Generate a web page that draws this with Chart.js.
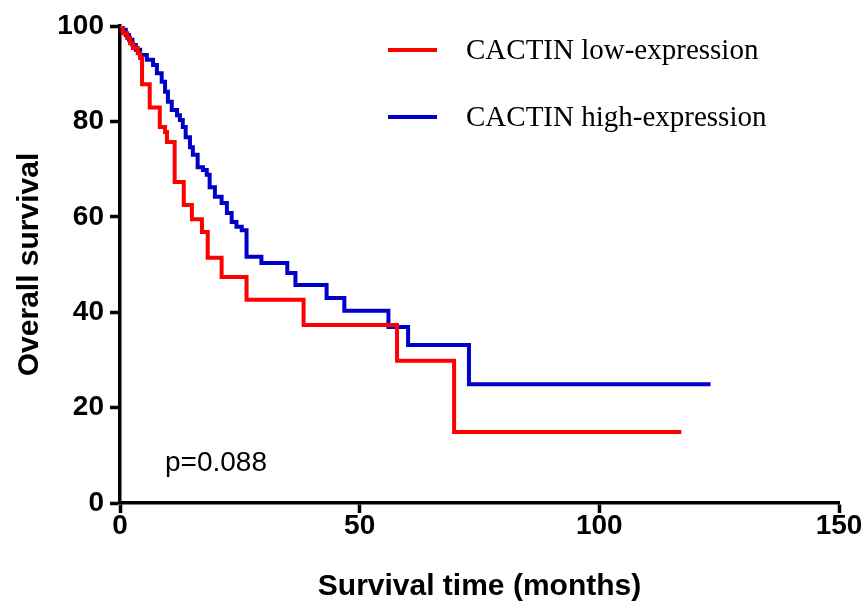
<!DOCTYPE html>
<html>
<head>
<meta charset="utf-8">
<script src="https://cdn.jsdelivr.net/npm/chart.js@4"></script>
<style>
  html, body { margin: 0; padding: 0; background: #fff; }
  #wrap { width: 862px; height: 607px; }
</style>
</head>
<body>
<div id="wrap"><canvas id="kmChart" width="862" height="607"></canvas></div>
<script>
// Kaplan-Meier steps (months, % surviving)
const lowTime = [0, 0.6, 1.5, 2.1, 2.7, 3.7, 4.2, 4.6, 6.2, 8.3, 9.4, 9.8, 11.4, 13.3, 15.0, 17.1, 18.3, 21.2, 26.4, 38.3, 57.8, 69.7, 117.1];
const lowSurv = [100, 98.5, 97.5, 96.4, 95.4, 94.3, 93.3, 87.8, 82.9, 78.8, 77.8, 75.7, 67.3, 62.5, 59.5, 56.8, 51.4, 47.4, 42.6, 37.3, 29.8, 14.9, 14.9];

const highTime = [0, 0.5, 1.2, 1.9, 2.6, 3.3, 4.2, 5.6, 6.9, 7.7, 8.7, 9.4, 10.0, 10.8, 11.9, 12.5, 13.1, 13.7, 14.6, 15.2, 16.2, 17.3, 18.1, 18.7, 19.8, 21.2, 22.3, 23.3, 24.3, 25.4, 26.4, 29.5, 34.9, 36.6, 43.1, 46.8, 56.0, 60.1, 72.8, 123.2];
const highSurv = [100, 99.2, 98.1, 97.1, 96.0, 95.0, 93.9, 92.9, 91.8, 90.1, 88.3, 86.2, 84.1, 82.4, 81.3, 80.3, 78.8, 76.7, 74.6, 73.0, 70.4, 69.8, 68.8, 66.2, 64.2, 62.9, 60.8, 58.9, 57.9, 57.2, 51.6, 50.3, 48.2, 45.7, 43.0, 40.3, 36.9, 33.1, 24.9, 24.9];

const seriesLabels = ['CACTIN low-expression', 'CACTIN high-expression'];
const xTicks = [0, 50, 100, 150];
const yTicks = [0, 20, 40, 60, 80, 100];
const pText = 'p=0.088';

function toPoints(xs, ys) {
    return xs.map((x, i) => ({ x: x, y: ys[i] }));
}

// legend drawn by hand to get the line-sample + serif text look
const legendPlugin = {
    id: 'kmLegend',
    afterDraw(chart) {
        const ctx = chart.ctx;
        ctx.save();
        const rows = [50, 117];
        chart.data.datasets.forEach((ds, i) => {
            ctx.strokeStyle = ds.borderColor;
            ctx.lineWidth = 4;
            ctx.beginPath();
            ctx.moveTo(388, rows[i]);
            ctx.lineTo(437, rows[i]);
            ctx.stroke();
            ctx.fillStyle = '#000';
            ctx.font = '29px "Liberation Serif", "Times New Roman", serif';
            ctx.textAlign = 'left';
            ctx.textBaseline = 'middle';
            ctx.fillText(ds.label, 466, rows[i] + 1);
        });
        // p value
        ctx.font = '28px "Liberation Sans", Arial, sans-serif';
        ctx.textBaseline = 'middle';
        ctx.fillText(pText, 165, 463);
        ctx.restore();
    }
};

const axisCommon = {
    type: 'linear',
    grid: {
        display: true,
        drawOnChartArea: false,
        drawTicks: true,
        tickLength: 10,
        tickWidth: 3.5,
        tickColor: '#000'
    },
    border: { display: true, color: '#000', width: 3.5 },
};

new Chart(document.getElementById('kmChart').getContext('2d'), {
    type: 'line',
    data: {
        datasets: [
            {
                label: seriesLabels[0],
                data: toPoints(lowTime, lowSurv),
                borderColor: '#ff0000',
                borderWidth: 4,
                stepped: 'before',
                pointRadius: 0,
                fill: false
            },
            {
                label: seriesLabels[1],
                data: toPoints(highTime, highSurv),
                borderColor: '#0000c8',
                borderWidth: 4,
                stepped: 'before',
                pointRadius: 0,
                fill: false
            }
        ]
    },
    options: {
        responsive: false,
        animation: false,
        layout: { padding: { top: 26, right: 23, left: 0, bottom: 0 } },
        plugins: {
            legend: { display: false },
            tooltip: { enabled: false }
        },
        scales: {
            x: {
                ...axisCommon,
                min: 0,
                max: 150,
                afterFit: s => { s.height = 104; s.paddingLeft = 0; s.paddingRight = 0; },
                afterBuildTicks: s => { s.ticks = xTicks.map(v => ({ value: v })); },
                ticks: {
                    color: '#000',
                    padding: -4,
                    font: { family: '"Liberation Sans", Arial, sans-serif', size: 28, weight: 'bold' }
                },
                title: {
                    display: true,
                    text: 'Survival time (months)',
                    color: '#000',
                    padding: { top: 0, bottom: 2 },
                    font: { family: '"Liberation Sans", Arial, sans-serif', size: 30, weight: 'bold', lineHeight: 1.2 }
                }
            },
            y: {
                ...axisCommon,
                min: 0,
                max: 100,
                afterFit: s => { s.width = 120; },
                afterBuildTicks: s => { s.ticks = yTicks.map(v => ({ value: v })); },
                ticks: {
                    color: '#000',
                    padding: 6,
                    font: { family: '"Liberation Sans", Arial, sans-serif', size: 28, weight: 'bold' }
                },
                title: {
                    display: true,
                    text: 'Overall survival',
                    color: '#000',
                    padding: { top: 12, bottom: 0 },
                    font: { family: '"Liberation Sans", Arial, sans-serif', size: 30, weight: 'bold', lineHeight: 1.2 }
                }
            }
        }
    },
    plugins: [legendPlugin]
});
</script>
</body>
</html>
